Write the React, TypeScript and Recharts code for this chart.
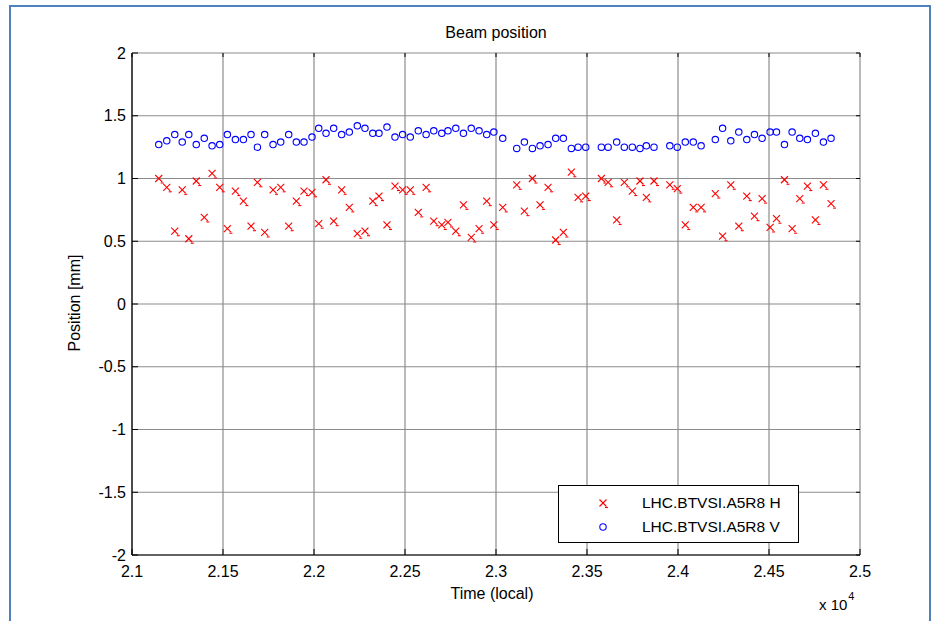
import { ScatterChart, Scatter, XAxis, YAxis, CartesianGrid, Legend } from "recharts"

// acquisition times (local time units, axis shown x 10^4)
const times = [
  21147, 21191, 21235, 21276, 21312, 21353, 21397, 21440, 21482, 21524, 21568, 21612, 21654, 21689, 21729,
  21775, 21817, 21861, 21903, 21945, 21989, 22026, 22066, 22108, 22152, 22194, 22238, 22280, 22323, 22357,
  22401, 22445, 22487, 22529, 22573, 22616, 22658, 22702, 22736, 22779, 22821, 22864, 22907, 22949, 22988,
  23037, 23114, 23156, 23200, 23242, 23286, 23328, 23370, 23414, 23451, 23493, 23579, 23616,
  23663, 23705, 23749, 23791, 23826, 23868, 23955, 23996, 24040, 24084, 24127, 24205, 24245,
  24290, 24334, 24378, 24420, 24462, 24506, 24541, 24585, 24627, 24669, 24711, 24755, 24799, 24841,
]

// horizontal position [mm]
const posH = [
  1.0, 0.93, 0.58, 0.91, 0.52, 0.98, 0.69, 1.04, 0.93, 0.6, 0.9, 0.82, 0.62, 0.97, 0.57,
  0.91, 0.93, 0.62, 0.82, 0.9, 0.89, 0.64, 0.99, 0.66, 0.91, 0.77, 0.56, 0.58, 0.82, 0.86,
  0.63, 0.94, 0.91, 0.91, 0.73, 0.93, 0.66, 0.63, 0.65, 0.58, 0.79, 0.53, 0.6, 0.82, 0.63,
  0.77, 0.95, 0.74, 1.0, 0.79, 0.93, 0.51, 0.57, 1.05, 0.85, 0.86, 1.0, 0.97,
  0.67, 0.97, 0.9, 0.98, 0.85, 0.98, 0.95, 0.92, 0.63, 0.77, 0.77, 0.88, 0.54,
  0.95, 0.62, 0.86, 0.7, 0.84, 0.61, 0.68, 0.99, 0.6, 0.84, 0.94, 0.67, 0.95, 0.8,
]

// vertical position [mm]
const posV = [
  1.27, 1.3, 1.35, 1.29, 1.35, 1.27, 1.32, 1.26, 1.27, 1.35, 1.31, 1.31, 1.35, 1.25, 1.35,
  1.27, 1.29, 1.35, 1.29, 1.29, 1.33, 1.4, 1.36, 1.4, 1.35, 1.37, 1.42, 1.4, 1.36, 1.36,
  1.41, 1.33, 1.35, 1.33, 1.38, 1.35, 1.38, 1.36, 1.38, 1.4, 1.36, 1.4, 1.38, 1.35, 1.37,
  1.32, 1.24, 1.29, 1.24, 1.26, 1.27, 1.32, 1.32, 1.24, 1.25, 1.25, 1.25, 1.25,
  1.29, 1.25, 1.25, 1.24, 1.26, 1.25, 1.26, 1.25, 1.29, 1.29, 1.26, 1.31, 1.4,
  1.3, 1.37, 1.31, 1.35, 1.32, 1.37, 1.37, 1.27, 1.37, 1.32, 1.31, 1.36, 1.29, 1.32,
]

const xTicks = [21000, 21500, 22000, 22500, 23000, 23500, 24000, 24500, 25000]
const xTickLabels = ["2.1", "2.15", "2.2", "2.25", "2.3", "2.35", "2.4", "2.45", "2.5"]
const yTicks = [-2, -1.5, -1, -0.5, 0, 0.5, 1, 1.5, 2]
const yTickLabels = ["-2", "-1.5", "-1", "-0.5", "0", "0.5", "1", "1.5", "2"]
const seriesNames = ["LHC.BTVSI.A5R8 H", "LHC.BTVSI.A5R8 V"]

const FONT = '"Liberation Sans", Arial, sans-serif'
const W = 938
const H = 621
// plot box
const LEFT = 132
const TOP = 53
const RIGHT = 860
const BOTTOM = 555
const GRID = "#8c8c8c"

const dataH = times.map((t, i) => ({ t, v: posH[i] }))
const dataV = times.map((t, i) => ({ t, v: posV[i] }))

const Cross = ({ cx, cy }: any) => (
  <g stroke="#ff0000" strokeWidth={1.1} fill="none">
    <line x1={cx - 3.5} y1={cy - 3.5} x2={cx + 3.5} y2={cy + 3.5} />
    <line x1={cx - 3.5} y1={cy + 3.5} x2={cx + 3.5} y2={cy - 3.5} />
    <line x1={cx + 2} y1={cy + 4.5} x2={cx + 5} y2={cy + 4.5} />
  </g>
)

const Ring = ({ cx, cy }: any) => (
  <circle cx={cx} cy={cy} r={3.2} stroke="#0000ff" strokeWidth={1.1} fill="none" />
)

const XTick = ({ x, y, index }: any) => (
  <g>
    <line x1={x} y1={BOTTOM} x2={x} y2={BOTTOM - 6} stroke="#000" />
    <line x1={x} y1={TOP} x2={x} y2={TOP + 4} stroke="#000" />
    <text x={x} y={y + 22} textAnchor="middle" fontSize={16} fontFamily={FONT} fill="#000">
      {xTickLabels[index]}
    </text>
  </g>
)

const YTick = ({ x, y, index }: any) => (
  <g>
    <line x1={LEFT} y1={y} x2={LEFT + 6} y2={y} stroke="#000" />
    <line x1={RIGHT} y1={y} x2={RIGHT - 4} y2={y} stroke="#000" />
    <text x={x} y={y + 5.5} textAnchor="end" fontSize={16} fontFamily={FONT} fill="#000">
      {yTickLabels[index]}
    </text>
  </g>
)

const LegendBox = () => (
  <div
    style={{
      width: 241,
      height: 58,
      boxSizing: "border-box",
      border: "1.5px solid #000",
      background: "#fff",
      position: "relative",
      fontFamily: FONT,
      fontSize: 15.5,
      color: "#000",
    }}
  >
    {seriesNames.map((name, i) => (
      <div key={name} style={{ position: "absolute", left: 0, top: 8 + i * 24, height: 18, width: 239 }}>
        <svg width={20} height={18} style={{ position: "absolute", left: 34, top: 0 }}>
          {i === 0 ? <Cross cx={10} cy={9} /> : <Ring cx={10} cy={9} />}
        </svg>
        <span style={{ position: "absolute", left: 83, top: 0, lineHeight: "18px", whiteSpace: "nowrap" }}>
          {name}
        </span>
      </div>
    ))}
  </div>
)

export default function App() {
  return (
    <div style={{ position: "absolute", left: 0, top: 0, width: W, height: H, background: "#fff", overflow: "hidden" }}>
      <div
        style={{
          position: "absolute",
          left: 9,
          top: 5,
          width: 922,
          height: 700,
          boxSizing: "border-box",
          border: "2px solid #4f81bd",
        }}
      />
      <ScatterChart
        width={W}
        height={H}
        margin={{ top: TOP, right: W - RIGHT, bottom: H - BOTTOM - 30, left: LEFT - 60 }}
        style={{ position: "absolute", left: 0, top: 0 }}
      >
        <CartesianGrid stroke={GRID} strokeWidth={1.2} />
        <XAxis
          dataKey="t"
          type="number"
          domain={[21000, 25000]}
          ticks={xTicks}
          interval={0}
          allowDataOverflow
          height={30}
          tickSize={0}
          tickMargin={0}
          tickLine={false}
          axisLine={{ stroke: "#000", strokeWidth: 1.2 }}
          tick={<XTick />}
        />
        <YAxis
          dataKey="v"
          type="number"
          domain={[-2, 2]}
          ticks={yTicks}
          interval={0}
          allowDataOverflow
          width={60}
          tickSize={0}
          tickMargin={6}
          tickLine={false}
          axisLine={{ stroke: "#000", strokeWidth: 1.2 }}
          tick={<YTick />}
        />
        <Scatter name={seriesNames[0]} data={dataH} shape={<Cross />} isAnimationActive={false} />
        <Scatter name={seriesNames[1]} data={dataV} shape={<Ring />} isAnimationActive={false} />
        <Legend
          layout="vertical"
          align="center"
          verticalAlign="middle"
          wrapperStyle={{ left: 558, top: 485, width: 241, height: 58 }}
          content={() => <LegendBox />}
        />
      </ScatterChart>
      <div
        style={{
          position: "absolute",
          left: 496,
          top: 33,
          transform: "translate(-50%, -50%)",
          fontFamily: FONT,
          fontSize: 16,
          lineHeight: 1,
          whiteSpace: "nowrap",
        }}
      >
        Beam position
      </div>
      <div
        style={{
          position: "absolute",
          left: 492,
          top: 594,
          transform: "translate(-50%, -50%)",
          fontFamily: FONT,
          fontSize: 16,
          lineHeight: 1,
          whiteSpace: "nowrap",
        }}
      >
        Time (local)
      </div>
      <div
        style={{
          position: "absolute",
          left: 75,
          top: 303,
          transform: "translate(-50%, -50%) rotate(-90deg)",
          fontFamily: FONT,
          fontSize: 16,
          lineHeight: 1,
          whiteSpace: "nowrap",
        }}
      >
        Position [mm]
      </div>
      <div
        style={{
          position: "absolute",
          left: 819,
          top: 597,
          fontFamily: FONT,
          fontSize: 15,
          lineHeight: 1,
          whiteSpace: "nowrap",
        }}
      >
        x 10
        <span style={{ position: "relative", top: -10, fontSize: 11, marginLeft: 1 }}>4</span>
      </div>
    </div>
  )
}
